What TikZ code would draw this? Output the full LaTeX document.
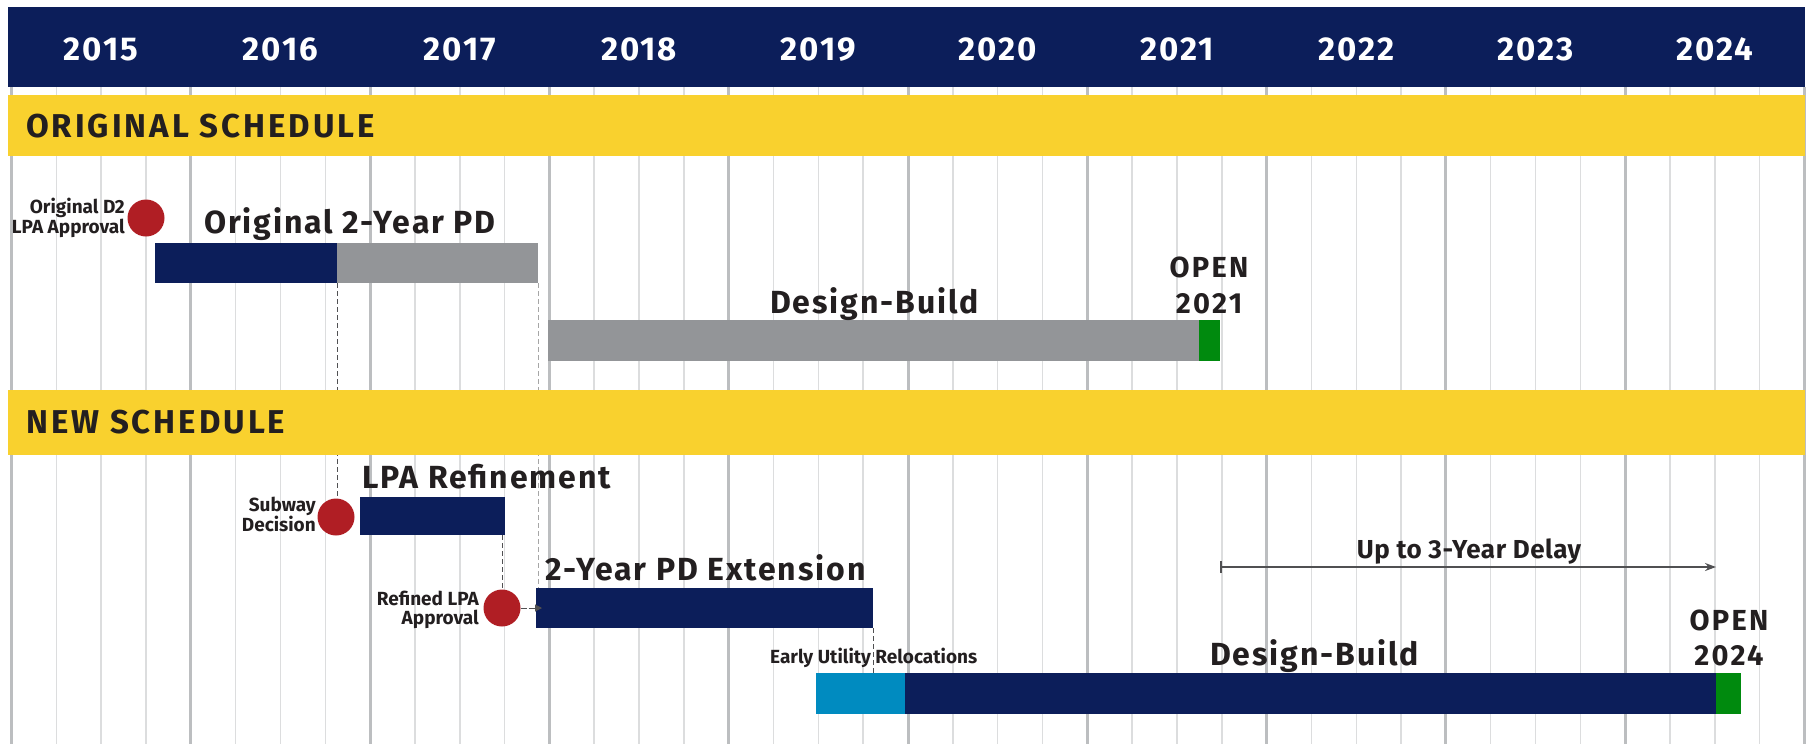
\documentclass[tikz,border=0pt]{standalone}
\usepackage{fontspec}
\setmainfont{Fira Sans}
\newfontfamily\trkSect{Fira Sans}[LetterSpace=9]
\newfontfamily\trkBar{Fira Sans}[LetterSpace=6]
\newfontfamily\trkOpen{Fira Sans}[LetterSpace=8]
\newfontfamily\trkDelay{Fira Sans}[LetterSpace=2]
\usetikzlibrary{arrows.meta}
\definecolor{navy}{HTML}{0C1E5A}
\definecolor{ylw}{HTML}{F9D12E}
\definecolor{bargray}{HTML}{939598}
\definecolor{opengreen}{HTML}{008A0E}
\definecolor{milred}{HTML}{B01E24}
\definecolor{utilblue}{HTML}{008BC0}
\definecolor{ink}{HTML}{231F20}
\definecolor{gridthick}{HTML}{BCBEC0}
\definecolor{gridthin}{HTML}{DCDDDE}
\definecolor{connector}{HTML}{505052}
\newcommand{\fsz}[1]{\fontsize{#1}{#1}\selectfont}
\tikzset{
  band/.style={draw=none, inner sep=0, outer sep=0, anchor=north west},
  barbox/.style={draw=none, inner sep=0, outer sep=0, anchor=north west, minimum height=40},
  mile/.style={circle, fill=milred, minimum size=37, inner sep=0, outer sep=0},
  gthin/.style={draw=gridthin, line width=1.5},
  gthick/.style={draw=gridthick, line width=3},
  yearlab/.style={text=white, font=\trkBar\bfseries\fsz{33}, anchor=base, inner sep=0},
  sectlab/.style={text=ink, font=\trkSect\bfseries\fsz{33}, anchor=base west, inner sep=0},
  barlab/.style={text=ink, font=\trkBar\bfseries\fsz{32}, anchor=base west, inner sep=0},
  openlab/.style={text=ink, font=\trkOpen\bfseries\fsz{29}, anchor=base, inner sep=0},
  smalllab/.style={text=ink, font=\bfseries\fsz{19}, anchor=base east, inner sep=0},
  delaylab/.style={text=ink, font=\trkDelay\bfseries\fsz{26}, anchor=base, inner sep=0},
  dashconn/.style={draw=connector, line width=1, dash pattern=on 5 off 3},
  delayarrow/.style={draw=connector, line width=1.5, {Bar[width=12pt]}-{Stealth[length=11pt,width=8pt]}},
}
\begin{document}
\begin{tikzpicture}[x=1pt,y=-1pt]
\useasboundingbox (0,0) rectangle (1806,744);
\fill[white] (0,0) rectangle (1806,744);
% grid
\foreach \k in {0,...,40}{\draw[gthin] ({11.5+44.825*\k},87) -- ({11.5+44.825*\k},744);}
\foreach \k in {0,...,10}{\draw[gthick] ({11.5+179.3*\k},87) -- ({11.5+179.3*\k},744);}
% header
\node[band, fill=navy, minimum width=1797, minimum height=80] (hdr) at (8,7) {};
\foreach \yr [count=\i from 0] in {2015,2016,2017,2018,2019,2020,2021,2022,2023,2024}
  \node[yearlab] (y\yr) at ({11.5+179.3*(\i+0.5)},60) {\yr};
% original schedule band
\node[band, fill=ylw, minimum width=1797, minimum height=61] (band1) at (8,95) {};
\node[sectlab] (t1) at (26,137) {ORIGINAL SCHEDULE};
% original bars
\node[barbox, fill=navy, minimum width=182] (opd1) at (155,243) {};
\node[barbox, fill=bargray, minimum width=201] (opd2) at (337,243) {};
\node[barbox, fill=bargray, minimum width=651, minimum height=41] (dbold) at (548,320) {};
\node[barbox, fill=opengreen, minimum width=21, minimum height=41] (open21) at (1199,320) {};
\node[mile] (c1) at (146,218) {};
\node[smalllab] (c1a) at (125,213) {Original D2};
\node[smalllab] (c1b) at (125,233) {LPA Approval};
\node[barlab] (lopd) at (204,233) {Original 2-Year PD};
\node[barlab] (ldbold) at (770,313) {Design-Build};
\node[openlab] (lo21a) at (1209,277) {OPEN};
\node[openlab] (lo21b) at (1209,313) {2021};
% new schedule bars and milestones
\node[barbox, fill=navy, minimum width=145, minimum height=38] (lpar) at (360,497) {};
\node[barbox, fill=navy, minimum width=337] (pdext) at (536,588) {};
\node[barbox, fill=utilblue, minimum width=89, minimum height=41] (euro) at (816,673) {};
\node[barbox, fill=navy, minimum width=811, minimum height=41] (dbnew) at (905,673) {};
\node[barbox, fill=opengreen, minimum width=25, minimum height=41] (open24) at (1716,673) {};
\node[mile] (c2) at (336,517) {};
\node[mile] (c3) at (502,608) {};
% dashed connectors
\draw[dashconn] (opd1.south east) -- (opd1.south east |- c2.north);
\draw[dashconn, draw=gray!70] (opd2.south east) -- (opd2.south east |- pdext.north);
\draw[dashconn] (c3.north |- lpar.south) -- (c3.north);
\draw[dashconn] (pdext.south east) -- (pdext.south east |- euro.north);
\draw[dashconn, dash pattern=on 6 off 2, -{Triangle[length=7pt,width=7pt]}] (c3.east) -- ([xshift=6]pdext.west);
% new schedule band (covers connectors)
\node[band, fill=ylw, minimum width=1797, minimum height=65] (band2) at (8,390) {};
\node[sectlab] (t2) at (26,433) {NEW SCHEDULE};
% labels
\node[smalllab] (c2a) at (316,511) {Subway};
\node[smalllab] (c2b) at (316,531) {Decision};
\node[smalllab] (c3a) at (479,605) {Refined LPA};
\node[smalllab] (c3b) at (479,624) {Approval};
\node[barlab] (llpar) at (362,488) {LPA Refinement};
\node[barlab] (lpdext) at (545,580) {2-Year PD Extension};
\node[smalllab, anchor=base west] (leuro) at (770,663) {Early Utility Relocations};
\node[barlab] (ldbnew) at (1210,665) {Design-Build};
\node[openlab] (lo24a) at (1729,630) {OPEN};
\node[openlab] (lo24b) at (1729,665) {2024};
% delay
\coordinate (dA) at (open21.east |- 0,567);
\coordinate (dB) at (open24.west |- 0,567);
\draw[delayarrow] (dA) -- (dB);
\node[delaylab] (ldelay) at (1469,558) {Up to 3-Year Delay};
\end{tikzpicture}
\end{document}
